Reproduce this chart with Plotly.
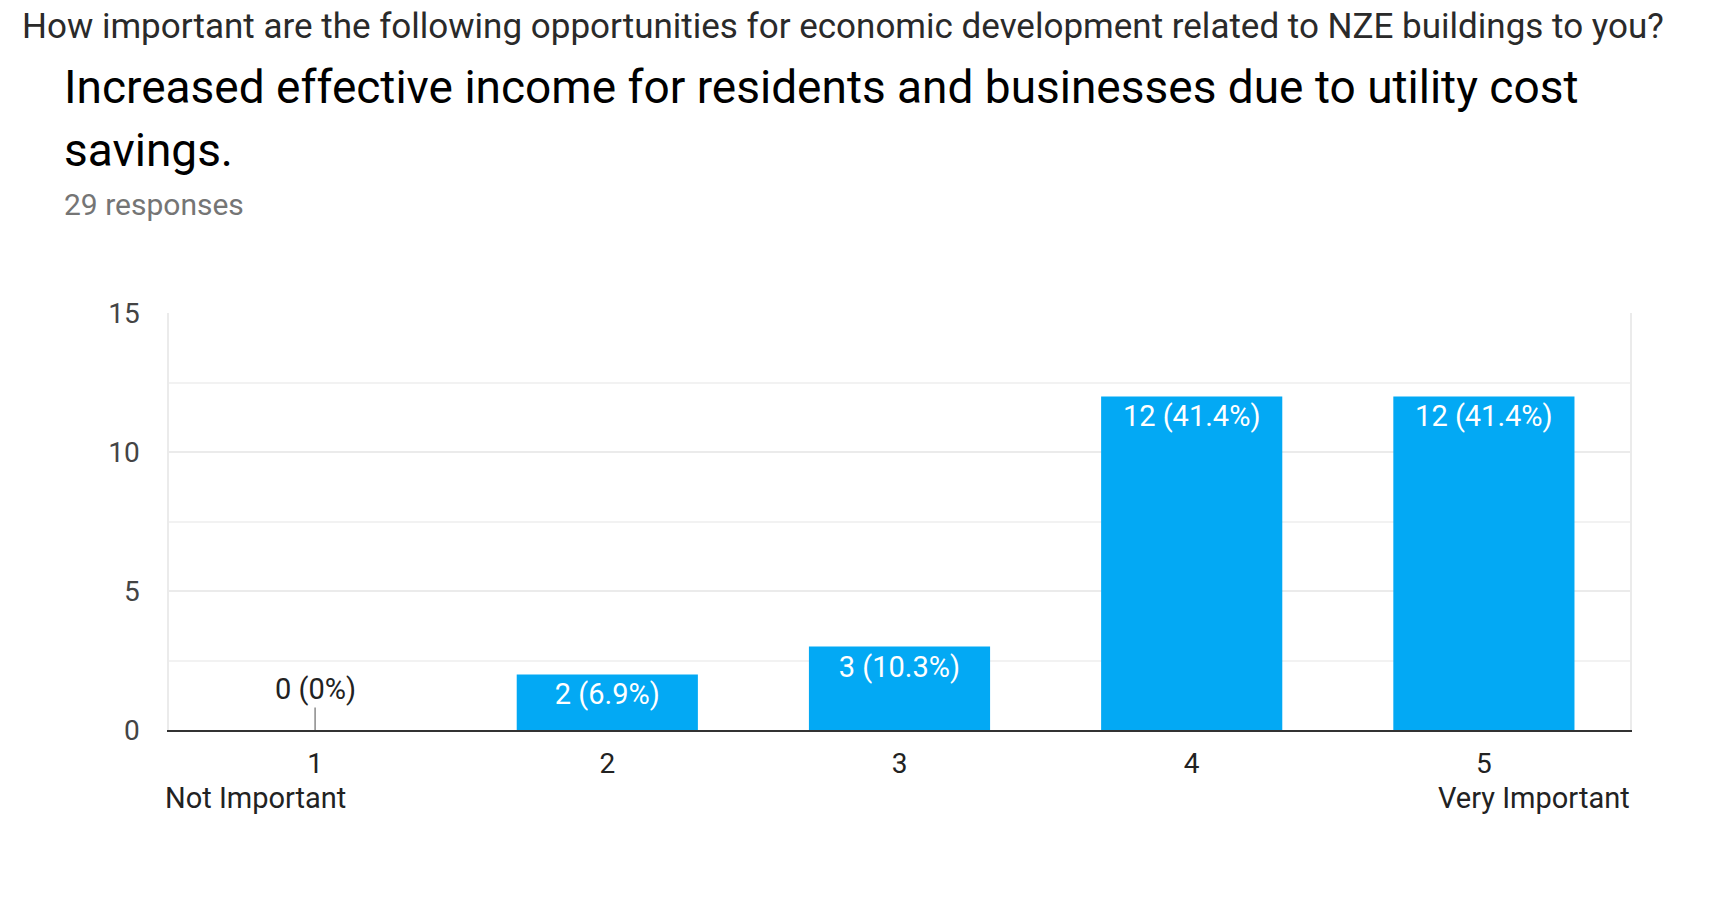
import plotly.graph_objects as go

categories = ["1", "2", "3", "4", "5"]
counts = [0, 2, 3, 12, 12]
total_responses = 29
y_ticks = [0, 5, 10, 15]

question = "How important are the following opportunities for economic development related to NZE buildings to you?"
title_lines = ["Increased effective income for residents and businesses due to utility cost", "savings."]
subtitle = f"{total_responses} responses"
low_label = "Not Important"
high_label = "Very Important"


def fmt_label(c):
    pct = round(c / total_responses * 100, 1)
    s = f"{pct:.1f}".rstrip("0").rstrip(".")
    return f"{c} ({s}%)"


labels = [fmt_label(c) for c in counts]

W, H = 1714, 905
L, R, T, B = 169, 1630, 313, 730.5
PW, PH = R - L, B - T


def px(x):
    return (x - L) / PW


def py(y):
    return (B - y) / PH


FONT = "Roboto"
BLUE = "#03a9f4"

fig = go.Figure()
fig.add_trace(go.Bar(
    x=categories,
    y=counts,
    marker=dict(color=BLUE, line=dict(width=0)),
    text=[l if c > 0 else "" for l, c in zip(labels, counts)],
    textposition="inside",
    insidetextanchor="end",
    textangle=0,
    textfont=dict(family=FONT, size=29, color="white"),
    constraintext="none",
    hoverinfo="skip",
))

annotations = []
# zero-value labels with a small leader line
for i, (c, l) in enumerate(zip(counts, labels)):
    if c == 0:
        annotations.append(dict(
            x=i, y=c, xref="x", yref="y", text=l,
            showarrow=True, arrowhead=0, arrowwidth=1.5, arrowcolor="#8a8a8a",
            ax=0, ay=-41, standoff=0, startstandoff=0,
            font=dict(family=FONT, size=29, color="#222222"),
        ))

annotations += [
    dict(x=px(20), y=py(26), xref="paper", yref="paper", text=question,
         showarrow=False, xanchor="left", yanchor="middle",
         font=dict(family=FONT, size=35, color="#2a2a2a")),
    dict(x=px(62), y=py(87), xref="paper", yref="paper", text=title_lines[0],
         showarrow=False, xanchor="left", yanchor="middle",
         font=dict(family=FONT, size=46, color="#000000")),
    dict(x=px(62), y=py(150), xref="paper", yref="paper", text=title_lines[1],
         showarrow=False, xanchor="left", yanchor="middle",
         font=dict(family=FONT, size=46, color="#000000")),
    dict(x=px(62), y=py(204), xref="paper", yref="paper", text=subtitle,
         showarrow=False, xanchor="left", yanchor="middle",
         font=dict(family=FONT, size=30, color="#757575")),
    dict(x=px(163), y=py(799), xref="paper", yref="paper", text=low_label,
         showarrow=False, xanchor="left", yanchor="middle",
         font=dict(family=FONT, size=29, color="#222222")),
    dict(x=px(1632), y=py(799), xref="paper", yref="paper", text=high_label,
         showarrow=False, xanchor="right", yanchor="middle",
         font=dict(family=FONT, size=29, color="#222222")),
]

fig.update_layout(
    width=W, height=H,
    margin=dict(l=L, r=W - R, t=T, b=H - B, pad=0),
    paper_bgcolor="white", plot_bgcolor="white",
    bargap=0.38,
    showlegend=False,
    annotations=annotations,
    font=dict(family=FONT),
)
fig.update_xaxes(
    type="category",
    showgrid=False,
    showline=True, linecolor="#333333", linewidth=2,
    ticks="outside", ticklen=7, tickcolor="rgba(0,0,0,0)",
    tickfont=dict(family=FONT, size=28, color="#222222"),
    fixedrange=True,
)
fig.update_yaxes(
    range=[0, 15],
    tickvals=y_ticks,
    showgrid=True, gridcolor="#ebebeb", gridwidth=1.5,
    minor=dict(dtick=2.5, showgrid=True, gridcolor="#f2f2f2", gridwidth=1.5),
    showline=True, linecolor="#ebebeb", linewidth=1.5, mirror=True,
    zeroline=False,
    ticks="outside", ticklen=22, tickcolor="rgba(0,0,0,0)",
    tickfont=dict(family=FONT, size=28, color="#444444"),
    fixedrange=True,
)

fig.write_html("out.html", config={"displayModeBar": False})
